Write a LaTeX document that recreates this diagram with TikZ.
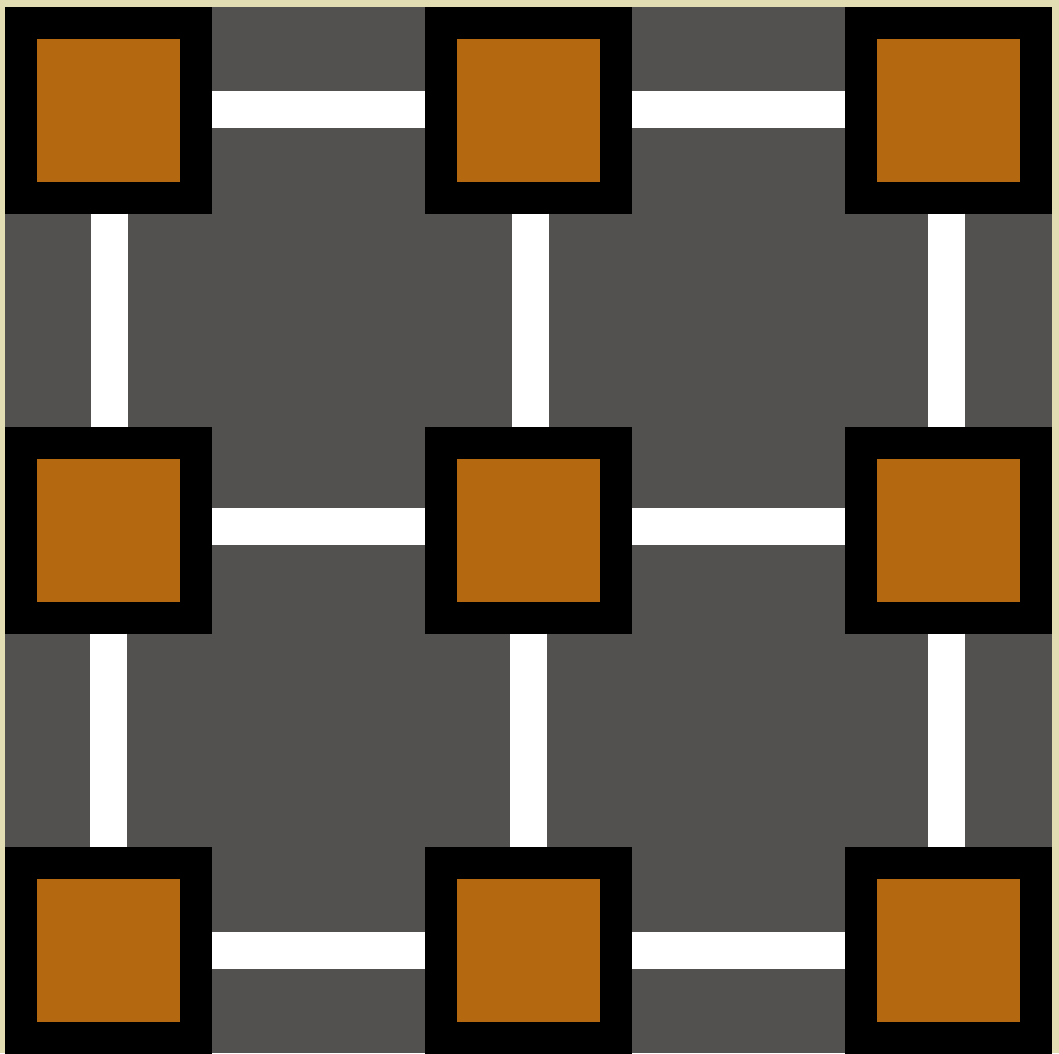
\documentclass[tikz,border=0pt]{standalone}
\begin{document}
\begin{tikzpicture}[x=1pt,y=-1pt,
  cell/.style={draw=black,fill=cellorange,line width=32pt,minimum size=175pt,inner sep=0pt,shape=rectangle},
  link/.style={draw=white,line width=37pt,line cap=butt}]
\definecolor{paper}{RGB}{226,221,178}
\definecolor{board}{RGB}{82,81,79}
\definecolor{cellorange}{RGB}{180,104,16}
\useasboundingbox (0,0) rectangle (1059,1053);
\fill[paper] (0,0) rectangle (1059,1053);
\fill[board] (5,7) rectangle (1052,1053);
% cells
\node[cell] (a1) at (108.5,110) {};
\node[cell] (a2) at (528.5,110) {};
\node[cell] (a3) at (948.5,110) {};
\node[cell] (b1) at (108.5,530) {};
\node[cell] (b2) at (528.5,530) {};
\node[cell] (b3) at (948.5,530) {};
\node[cell] (c1) at (108.5,950) {};
\node[cell] (c2) at (528.5,950) {};
\node[cell] (c3) at (948.5,950) {};
% horizontal links
\draw[link] ([yshift=1pt]a1.east) -- ([yshift=1pt]a2.west);
\draw[link] ([yshift=1pt]a2.east) -- ([yshift=1pt]a3.west);
\draw[link] ([yshift=4pt]b1.east) -- ([yshift=4pt]b2.west);
\draw[link] ([yshift=4pt]b2.east) -- ([yshift=4pt]b3.west);
\draw[link] (c1.east) -- (c2.west);
\draw[link] (c2.east) -- (c3.west);
% vertical links
\draw[link] ([xshift=1pt]a1.south) -- ([xshift=1pt]b1.north);
\draw[link] ([xshift=0pt]b1.south) -- ([xshift=0pt]c1.north);
\draw[link] ([xshift=1.5pt]a2.south) -- ([xshift=1.5pt]b2.north);
\draw[link] ([xshift=0pt]b2.south) -- ([xshift=0pt]c2.north);
\draw[link] ([xshift=-2.5pt]a3.south) -- ([xshift=-2.5pt]b3.north);
\draw[link] ([xshift=-2.5pt]b3.south) -- ([xshift=-2.5pt]c3.north);
\end{tikzpicture}
\end{document}
